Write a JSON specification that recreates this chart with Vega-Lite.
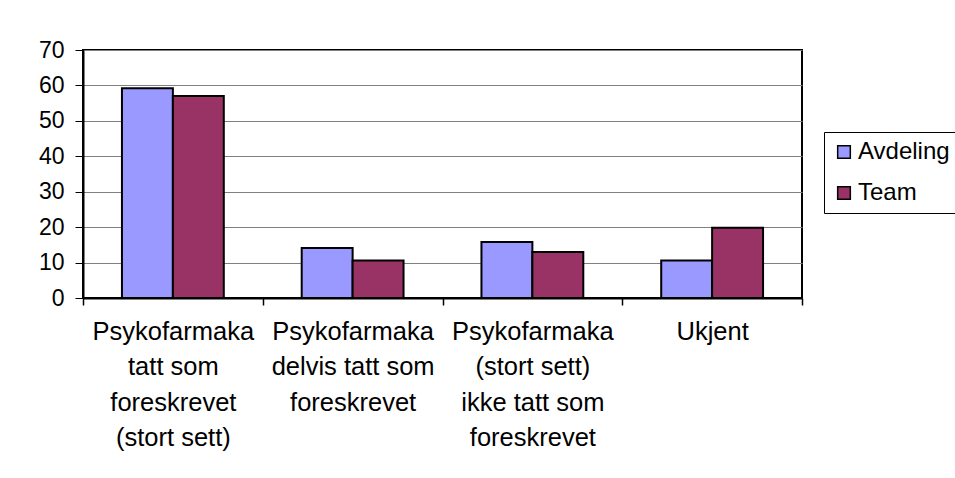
{
  "$schema": "https://vega.github.io/schema/vega-lite/v6.json",
  "width": 719,
  "height": 248,
  "autosize": {"type": "none"},
  "padding": {"left": 83, "top": 50, "right": 153, "bottom": 180},
  "background": "white",
  "data": {
    "values": [
      {"kategori": "Psykofarmaka|tatt som|foreskrevet|(stort sett)", "gruppe": "Avdeling", "verdi": 59.2},
      {"kategori": "Psykofarmaka|tatt som|foreskrevet|(stort sett)", "gruppe": "Team", "verdi": 57.0},
      {"kategori": "Psykofarmaka|delvis tatt som|foreskrevet", "gruppe": "Avdeling", "verdi": 14.1},
      {"kategori": "Psykofarmaka|delvis tatt som|foreskrevet", "gruppe": "Team", "verdi": 10.6},
      {"kategori": "Psykofarmaka|(stort sett)|ikke tatt som|foreskrevet", "gruppe": "Avdeling", "verdi": 15.8},
      {"kategori": "Psykofarmaka|(stort sett)|ikke tatt som|foreskrevet", "gruppe": "Team", "verdi": 13.0},
      {"kategori": "Ukjent", "gruppe": "Avdeling", "verdi": 10.6},
      {"kategori": "Ukjent", "gruppe": "Team", "verdi": 19.8}
    ]
  },
  "mark": {"type": "bar", "stroke": "black", "strokeWidth": 2},
  "encoding": {
    "x": {
      "field": "kategori",
      "type": "nominal",
      "sort": null,
      "title": null,
      "scale": {"paddingInner": 0, "paddingOuter": 0},
      "axis": {
        "labelAngle": 0,
        "labelExpr": "split(datum.label, '|')",
        "labelFont": "Liberation Sans",
        "labelFontSize": 25.5,
        "labelColor": "black",
        "labelLineHeight": 35.5,
        "labelPadding": 14,
        "ticks": true,
        "tickBand": "extent",
        "tickSize": 7,
        "tickColor": "black",
        "tickWidth": 1.5,
        "domainColor": "black",
        "domainWidth": 2,
        "labelLimit": 0
      }
    },
    "xOffset": {"field": "gruppe", "type": "nominal", "scale": {"paddingInner": 0, "paddingOuter": 0.765}},
    "y": {
      "field": "verdi",
      "type": "quantitative",
      "title": null,
      "scale": {"domain": [0, 70], "nice": false},
      "axis": {
        "values": [0, 10, 20, 30, 40, 50, 60, 70],
        "labelFont": "Liberation Sans",
        "labelFontSize": 23,
        "labelColor": "black",
        "labelPadding": 11,
        "tickSize": 8,
        "tickColor": "black",
        "domainColor": "black",
        "domainWidth": 2,
        "grid": true,
        "gridColor": "#808080",
        "gridWidth": 1
      }
    },
    "color": {
      "field": "gruppe",
      "type": "nominal",
      "scale": {"domain": ["Avdeling", "Team"], "range": ["#9999FF", "#993366"]},
      "legend": {
        "title": null,
        "orient": "none",
        "legendX": 741,
        "legendY": 82,
        "strokeColor": "black",
        "padding": 8,
        "symbolType": "square",
        "symbolSize": 160,
        "symbolStrokeColor": "black",
        "symbolStrokeWidth": 1.5,
        "labelFont": "Liberation Sans",
        "labelFontSize": 24,
        "labelColor": "black",
        "rowPadding": 17,
        "labelOffset": 2
      }
    }
  },
  "config": {
    "view": {"stroke": "black", "strokeWidth": 2},
    "axis": {"labelOverlap": false}
  }
}
